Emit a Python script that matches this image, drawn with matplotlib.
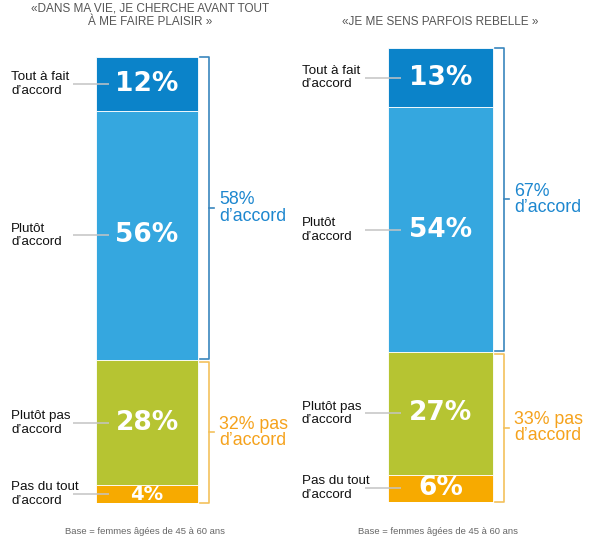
import matplotlib
matplotlib.use("Agg")
import matplotlib.pyplot as plt

# data
categories = ["Tout à fait\nd’accord", "Plutôt\nd’accord", "Plutôt pas\nd’accord", "Pas du tout\nd’accord"]
values_plaisir = [12, 56, 28, 4]
values_rebelle = [13, 54, 27, 6]
titles = ["«DANS MA VIE, JE CHERCHE AVANT TOUT\nÀ ME FAIRE PLAISIR »", "«JE ME SENS PARFOIS REBELLE »"]
totals_plaisir = ["58%\nd’accord", "32% pas\nd’accord"]
totals_rebelle = ["67%\nd’accord", "33% pas\nd’accord"]
base_note = "Base = femmes âgées de 45 à 60 ans"

seg_colors = ["#0b83c9", "#35a7df", "#b6c432", "#f7aa00"]
blue_txt = "#1d87cf"
orange_txt = "#f5a21c"
blue_brk = "#3a86bd"
orange_brk = "#f3c15c"

W, H = 595, 537
fig = plt.figure(figsize=(W / 100, H / 100), dpi=100)
fig.patch.set_facecolor("white")


def px(x0, y0, w, h):
    # pixel box (top-left origin) -> figure fraction
    return [x0 / W, 1 - (y0 + h) / H, w / W, h / H]


def draw_panel(ax, values, totals, bar_x, bar_w, lab_x, line_x0, brk_x, pct_sizes):
    ax.set_xlim(0, 298)
    ax.set_ylim(100, 0)
    ax.axis("off")
    bottom = 0
    for i, v in enumerate(values):
        ax.bar(bar_x, v, bottom=bottom, width=bar_w, color=seg_colors[i],
               edgecolor="white", linewidth=0.6, zorder=2)
        mid = bottom + v / 2
        ax.text(bar_x, mid, f"{v}%", ha="center", va="center", color="white",
                fontsize=pct_sizes[i], fontweight="bold", family="DejaVu Sans", zorder=4)
        ax.text(lab_x, mid, categories[i], ha="left", va="center", fontsize=9.6,
                family="Liberation Sans", color="#111111", linespacing=1.2)
        ax.plot([line_x0, bar_x - bar_w / 2 + 13], [mid, mid], color="#c4c4c4", lw=1.1,
                zorder=3, clip_on=False, solid_capstyle="butt")
        bottom += v

    agree = values[0] + values[1]
    groups = [(0, agree - 0.3, blue_brk, blue_txt, totals[0]),
              (agree + 0.3, 100, orange_brk, orange_txt, totals[1])]
    for top, bot, lc, tc, txt in groups:
        ax.plot([brk_x - 9, brk_x, brk_x, brk_x - 9], [top, top, bot, bot],
                color=lc, lw=1.2, clip_on=False)
        mid = (top + bot) / 2
        ax.plot([brk_x, brk_x + 5], [mid, mid], color=lc, lw=1.2, clip_on=False)
        ax.text(brk_x + 10, mid, txt, ha="left", va="center", fontsize=12.8,
                family="Liberation Sans", color=tc, linespacing=0.95)


ax1 = fig.add_axes(px(0, 57, 298, 446))
draw_panel(ax1, values_plaisir, totals_plaisir, 147, 102, 11, 73, 209, [19, 19, 19, 14])

ax2 = fig.add_axes(px(297, 48, 298, 454))
draw_panel(ax2, values_rebelle, totals_rebelle, 143.5, 105, 5, 68, 207, [19, 19, 19, 19])

fig.text(150 / W, 1 - 15.5 / H, titles[0], ha="center", va="center", fontsize=8.5,
         family="Liberation Sans", color="#555555", linespacing=1.15)
fig.text(440 / W, 1 - 22 / H, titles[1], ha="center", va="center", fontsize=8.5,
         family="Liberation Sans", color="#555555")

fig.text(145 / W, 5 / H, base_note, ha="center", va="center", fontsize=6.8,
         family="Liberation Sans", color="#666666")
fig.text(438 / W, 5 / H, base_note, ha="center", va="center", fontsize=6.8,
         family="Liberation Sans", color="#666666")

fig.savefig("out.png", dpi=100)
